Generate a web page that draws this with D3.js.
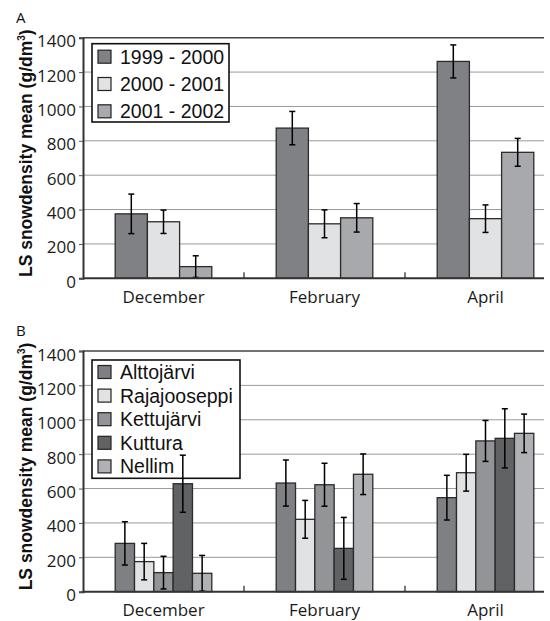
<!DOCTYPE html>
<html>
<head>
<meta charset="utf-8">
<script src="https://cdn.jsdelivr.net/npm/d3@7"></script>
<style>
  body { margin: 0; background: #fff; }
  svg { display: block; }
</style>
</head>
<body>
<div id="chart"></div>
<script>
const months = ["December", "February", "April"];
const yTicks = [0, 200, 400, 600, 800, 1000, 1200, 1400];

// panel A: winters
const seasons = ["1999 - 2000", "2000 - 2001", "2001 - 2002"];
const seasonMeans = [
  [375, 874, 1262],
  [329, 317, 347],
  [68, 352, 733]
];
const seasonErrs = [
  [115, 97, 96],
  [68, 81, 80],
  [63, 83, 81]
];
const seasonColors = ["#808185", "#e1e2e4", "#a8a9ac"];

// panel B: sites
const sites = ["Alttojärvi", "Rajajooseppi", "Kettujärvi", "Kuttura", "Nellim"];
const siteMeans = [
  [281, 632, 547],
  [175, 421, 692],
  [111, 622, 877],
  [628, 252, 892],
  [107, 683, 921]
];
const siteErrs = [
  [126, 134, 130],
  [106, 110, 107],
  [95, 125, 119],
  [166, 180, 172],
  [104, 118, 112]
];
const siteColors = ["#7f8084", "#e1e2e4", "#939497", "#616264", "#b0b1b4"];

const width = 550,
  height = 621,
  left = 83,
  right = 566,
  clipRight = 544;

const svg = d3
  .select("#chart")
  .append("svg")
  .attr("width", width)
  .attr("height", height);

svg
  .append("defs")
  .append("clipPath")
  .attr("id", "plotclip")
  .append("rect")
  .attr("x", 0)
  .attr("y", 0)
  .attr("width", clipRight)
  .attr("height", height);

function drawPanel(p) {
  const g = svg.append("g").attr("clip-path", "url(#plotclip)");

  const x0 = d3
    .scaleBand()
    .domain(months)
    .range([left, right])
    .paddingInner(0.4)
    .paddingOuter(0.2);
  const x1 = d3.scaleBand().domain(p.names).range([0, x0.bandwidth()]);
  const y = d3.scaleLinear().domain([0, 1400]).range([p.bottom, p.top]);

  // gridlines
  g.selectAll(".grid")
    .data(yTicks.filter((t) => t > 0 && t < 1400))
    .enter()
    .append("line")
    .attr("x1", left)
    .attr("x2", clipRight)
    .attr("y1", (d) => y(d))
    .attr("y2", (d) => y(d))
    .attr("stroke", "#9a9a9a")
    .attr("stroke-width", 1);

  // top frame line
  g.append("line")
    .attr("x1", left)
    .attr("x2", clipRight)
    .attr("y1", y(1400))
    .attr("y2", y(1400))
    .attr("stroke", "#444")
    .attr("stroke-width", 1.6);

  // legend box (drawn under bars / error bars)
  const lg = g.append("g");
  lg.append("rect")
    .attr("x", p.legend.x)
    .attr("y", p.legend.y)
    .attr("width", p.legend.w)
    .attr("height", p.legend.h)
    .attr("fill", "#fff")
    .attr("stroke", "#111")
    .attr("stroke-width", 1.6);
  p.names.forEach((name, i) => {
    const cy = p.legend.y + p.legend.pad + i * p.legend.step;
    lg.append("rect")
      .attr("x", 98)
      .attr("y", cy - 6.5)
      .attr("width", 13)
      .attr("height", 13)
      .attr("fill", p.colors[i])
      .attr("stroke", "#222")
      .attr("stroke-width", 1.2);
    lg.append("text")
      .attr("x", 120)
      .attr("y", cy + 7)
      .style("font-family", "'Liberation Sans', Arial, sans-serif")
      .style("font-size", "19.5px")
      .style("fill", "#111")
      .text(name);
  });

  // bars
  const rows = [];
  p.names.forEach((name, i) => {
    months.forEach((m, j) => {
      rows.push({ name, i, m, v: p.means[i][j], e: p.errs[i][j] });
    });
  });

  g.selectAll(".bar")
    .data(rows)
    .enter()
    .append("rect")
    .attr("x", (d) => x0(d.m) + x1(d.name))
    .attr("y", (d) => y(d.v))
    .attr("width", x1.bandwidth())
    .attr("height", (d) => y(0) - y(d.v))
    .attr("fill", (d) => p.colors[d.i])
    .attr("stroke", "#2b2b2b")
    .attr("stroke-width", 1.3);

  // error bars
  const eb = g.selectAll(".err").data(rows).enter().append("g");
  const cx = (d) => x0(d.m) + x1(d.name) + x1.bandwidth() / 2;
  eb.append("line")
    .attr("x1", cx)
    .attr("x2", cx)
    .attr("y1", (d) => y(d.v + d.e))
    .attr("y2", (d) => y(Math.max(0, d.v - d.e)))
    .attr("stroke", "#000")
    .attr("stroke-width", 1.5);
  [1, -1].forEach((s) => {
    eb.append("line")
      .attr("x1", (d) => cx(d) - 3)
      .attr("x2", (d) => cx(d) + 3)
      .attr("y1", (d) => y(Math.max(0, d.v + s * d.e)))
      .attr("y2", (d) => y(Math.max(0, d.v + s * d.e)))
      .attr("stroke", "#000")
      .attr("stroke-width", 1.5);
  });

  // x axis line and inner ticks between months
  g.append("line")
    .attr("x1", left)
    .attr("x2", clipRight)
    .attr("y1", y(0))
    .attr("y2", y(0))
    .attr("stroke", "#333")
    .attr("stroke-width", 2);
  g.selectAll(".xtick")
    .data(months.slice(0, -1))
    .enter()
    .append("line")
    .attr("x1", (m) => x0(m) + x0.bandwidth() / 2 + x0.step() / 2)
    .attr("x2", (m) => x0(m) + x0.bandwidth() / 2 + x0.step() / 2)
    .attr("y1", y(0))
    .attr("y2", y(0) - 6)
    .attr("stroke", "#333")
    .attr("stroke-width", 1.3);

  svg.append("g")
    .selectAll("text")
    .data(months)
    .enter()
    .append("text")
    .attr("x", (m) => x0(m) + x0.bandwidth() / 2)
    .attr("y", y(0) + 24.5)
    .attr("text-anchor", "middle")
    .style("font-family", "'Open Sans', sans-serif")
    .style("font-size", "17px")
    .style("fill", "#1a1a1a")
    .text((m) => m);

  // y axis
  const yAxis = svg
    .append("g")
    .attr("transform", `translate(${left},0)`)
    .call(
      d3.axisLeft(y).tickValues(yTicks).tickSize(4).tickPadding(3).tickFormat(d3.format("d"))
    );
  yAxis.select(".domain").attr("stroke", "#333").attr("stroke-width", 2);
  yAxis.selectAll(".tick line").attr("stroke", "#555");
  yAxis
    .selectAll(".tick text")
    .attr("dy", null)
    .attr("y", 9)
    .style("font-family", "'Open Sans', sans-serif")
    .style("font-size", "17px")
    .style("fill", "#1a1a1a");

  // y title
  const title = svg
    .append("text")
    .attr("transform", `translate(32, ${p.top + 115.5}) rotate(-90)`)
    .attr("text-anchor", "middle")
    .style("font-family", "'Liberation Sans', Arial, sans-serif")
    .style("font-size", "17.5px")
    .style("font-weight", "bold")
    .style("fill", "#111")
    .text("LS snowdensity mean (g/dm");
  title.append("tspan").attr("dy", -7).style("font-size", "10px").text("3");
  title.append("tspan").attr("dy", 7).text(")");

  // panel letter
  svg.append("text")
    .attr("x", 16)
    .attr("y", p.top - 15)
    .style("font-family", "'Open Sans', sans-serif")
    .style("font-size", "15px")
    .style("fill", "#111")
    .text(p.label);
}

drawPanel({
  label: "A",
  top: 37.7,
  bottom: 278.3,
  names: seasons,
  means: seasonMeans,
  errs: seasonErrs,
  colors: seasonColors,
  legend: { x: 92, y: 43.7, w: 137, h: 78.3, step: 27.3, pad: 13 }
});

drawPanel({
  label: "B",
  top: 351,
  bottom: 591.7,
  names: sites,
  means: siteMeans,
  errs: siteErrs,
  colors: siteColors,
  legend: { x: 92, y: 360, w: 148, h: 118.3, step: 23.6, pad: 12 }
});
</script>
</body>
</html>
